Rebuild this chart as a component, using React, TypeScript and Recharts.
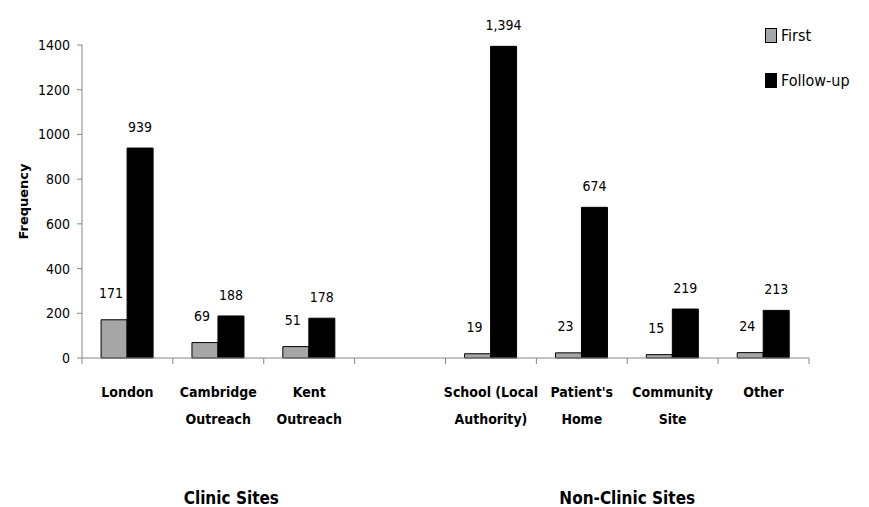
import React from 'react';
import { BarChart, Bar, XAxis, YAxis, LabelList } from 'recharts';

const categories = [
  'London',
  'Cambridge\nOutreach',
  'Kent\nOutreach',
  '',
  'School (Local\nAuthority)',
  "Patient's\nHome",
  'Community\nSite',
  'Other',
];
const firstVisits = [171, 69, 51, null, 19, 23, 15, 24];
const followUpVisits = [939, 188, 178, null, 1394, 674, 219, 213];
const yTicks = [0, 200, 400, 600, 800, 1000, 1200, 1400];
const groups = [
  { label: 'Clinic Sites', from: 0, to: 2 },
  { label: 'Non-Clinic Sites', from: 4, to: 7 },
];

const series = [
  { key: 'first', name: 'First', fill: '#A6A6A6' },
  { key: 'followUp', name: 'Follow-up', fill: '#000000' },
];

const data = categories.map((c, i) => ({
  category: c,
  first: firstVisits[i],
  followUp: followUpVisits[i],
}));

const FONT = "'DejaVu Sans Condensed', 'Liberation Sans Narrow', 'Arial Narrow', sans-serif";
const AXIS = '#868686';

const fmt = (v: any) => (v == null ? '' : Number(v).toLocaleString('en-US'));

const CategoryTick = (props: any) => {
  const { x, y, payload, index } = props;
  const half = payload && payload.offset ? payload.offset : 45.4;
  const lines = String(payload.value).split('\n');
  const last = index === categories.length - 1;
  const group = groups.find((g) => g.from === index);
  let gx = 0;
  if (group) {
    const left = x - half;
    const right = x + half + (group.to - group.from) * half * 2;
    gx = (left + right) / 2 + (group.from === 0 ? 13 : 0);
  }
  return (
    <g>
      <line x1={x - half} x2={x - half} y1={y} y2={y + 6} stroke={AXIS} />
      {last && <line x1={x + half} x2={x + half} y1={y} y2={y + 6} stroke={AXIS} />}
      <text
        x={x}
        y={y + 39}
        textAnchor="middle"
        fontFamily={FONT}
        fontWeight="bold"
        fontSize={14}
        fill="#000"
      >
        {lines.map((l, i) => (
          <tspan key={i} x={x} dy={i === 0 ? 0 : 27}>
            {l}
          </tspan>
        ))}
      </text>
      {group && (
        <text
          x={gx}
          y={y + 146}
          textAnchor="middle"
          fontFamily={FONT}
          fontWeight="bold"
          fontSize={17}
          fill="#000"
        >
          {group.label}
        </text>
      )}
    </g>
  );
};

export default function App() {
  return (
    <div style={{ position: 'absolute', left: 0, top: 0, width: 869, height: 507, background: '#fff' }}>
      <BarChart
        width={869}
        height={507}
        data={data}
        margin={{ top: 45, right: 60, left: 0, bottom: 0 }}
        barCategoryGap="21%"
        barGap={0}
      >
        <XAxis
          dataKey="category"
          interval={0}
          stroke={AXIS}
          tickLine={false}
          tickSize={0}
          tickMargin={0}
          height={149}
          tick={<CategoryTick />}
        />
        <YAxis
          domain={[0, 1400]}
          ticks={yTicks}
          width={82}
          stroke={AXIS}
          tickSize={5}
          tickMargin={7}
          tick={{ fill: '#000', fontFamily: FONT, fontSize: 14 }}
          label={{
            value: 'Frequency',
            angle: -90,
            position: 'center',
            dx: -18,
            fontFamily: "'DejaVu Sans', sans-serif",
            fontWeight: 'bold',
            fontSize: 13,
            fill: '#000',
          }}
        />
        <Bar dataKey="first" name="First" fill="#A6A6A6" stroke="#000" strokeWidth={1} isAnimationActive={false}>
          <LabelList
            dataKey="first"
            position="top"
            offset={22}
            formatter={fmt}
            fontFamily={FONT}
            fontSize={14}
            fill="#000"
            dx={-3}
          />
        </Bar>
        <Bar dataKey="followUp" name="Follow-up" fill="#000" stroke="#000" strokeWidth={1} isAnimationActive={false}>
          <LabelList
            dataKey="followUp"
            position="top"
            offset={16}
            formatter={fmt}
            fontFamily={FONT}
            fontSize={14}
            fill="#000"
          />
        </Bar>
      </BarChart>
      <div style={{ position: 'absolute', left: 765, top: 25, fontFamily: FONT, fontSize: 16, color: '#000' }}>
        {series.map((s) => (
          <div key={s.key} style={{ display: 'flex', alignItems: 'center', height: 20, marginBottom: 25 }}>
            <span
              style={{
                display: 'inline-block',
                width: 10,
                height: 13,
                background: s.fill,
                border: '1px solid #000',
                marginRight: 4,
              }}
            />
            {s.name}
          </div>
        ))}
      </div>
    </div>
  );
}
